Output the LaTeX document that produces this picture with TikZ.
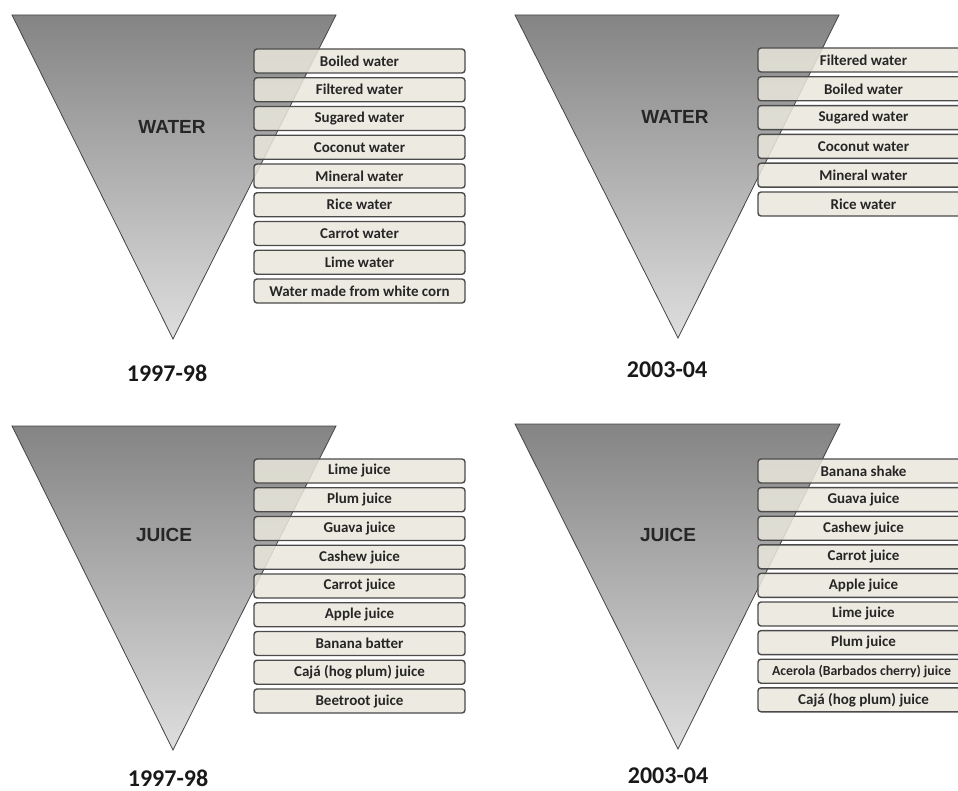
\documentclass[tikz,border=0pt]{standalone}
\usepackage{fontspec}
\setmainfont{Carlito}
\newfontfamily\arialfont{Liberation Sans}
\definecolor{funtop}{RGB}{132,132,132}
\definecolor{funbot}{RGB}{222,222,222}
\definecolor{funline}{RGB}{70,70,70}
\definecolor{boxfill}{RGB}{234,232,220}
\definecolor{boxline}{RGB}{75,75,75}
\begin{document}
\begin{tikzpicture}[x=1pt,y=-1pt,
  funnel/.style={draw=funline, line width=0.8pt, top color=funtop, bottom color=funbot},
  item/.style={draw=boxline, line width=1.4pt, fill=boxfill, fill opacity=0.85, text opacity=1,
    rounded corners=3pt, minimum width=211pt, minimum height=24pt, inner sep=0pt,
    font=\fontsize{15}{17}\selectfont\bfseries, text=black!85},
  cat/.style={font=\arialfont\fontsize{19}{22}\selectfont\bfseries, text=black!85},
  year/.style={font=\fontsize{24}{28}\selectfont\bfseries, text=black!90}]
\useasboundingbox (0,0) rectangle (958,791);
\clip (0,0) rectangle (958,791);
\fill[white] (0,0) rectangle (958,791);
% funnels
\path[funnel] (12,15) -- (336,15) -- (173,339) -- cycle;
\path[funnel] (515,15) -- (839,15) -- (678,338) -- cycle;
\path[funnel] (12,426) -- (336,426) -- (173,750) -- cycle;
\path[funnel] (515,424) -- (840,424) -- (678,749) -- cycle;
% category labels
\node[cat] (wl) at (172,127) {WATER};
\node[cat] (wr) at (675,117) {WATER};
\node[cat] (jl) at (164,535) {JUICE};
\node[cat] (jr) at (668,535) {JUICE};
% years
\node[year] (ywl) at (167,373) {1997-98};
\node[year] (ywr) at (667,370) {2003-04};
\node[year] (yjl) at (168,778) {1997-98};
\node[year] (yjr) at (668,776) {2003-04};
% items
\foreach \t [count=\i] in {Boiled water, Filtered water, Sugared water, Coconut water, Mineral water, Rice water, Carrot water, Lime water, Water made from white corn}
  \node[item] (a\i) at (359.5,{61+(\i-1)*28.75}) {\t};
\foreach \t [count=\i] in {Filtered water, Boiled water, Sugared water, Coconut water, Mineral water, Rice water}
  \node[item] (b\i) at (863.5,{60+(\i-1)*28.8}) {\t};
\foreach \t [count=\i] in {Lime juice, Plum juice, Guava juice, Cashew juice, Carrot juice, Apple juice, Banana batter, Cajá (hog plum) juice, Beetroot juice}
  \node[item] (c\i) at (359.5,{471+(\i-1)*28.75}) {\t};
\foreach \t [count=\i] in {Banana shake, Guava juice, Cashew juice, Carrot juice, Apple juice, Lime juice, Plum juice}
  \node[item] (d\i) at (863.5,{471+(\i-1)*28.6}) {\t};
\node[item, font=\fontsize{13.8}{16}\selectfont\bfseries] (d8) at (863.5,{471+7*28.6}) {\hspace*{-4pt}Acerola (Barbados cherry) juice};
\node[item] (d9) at (863.5,{471+8*28.6}) {Cajá (hog plum) juice};
\end{tikzpicture}
\end{document}
